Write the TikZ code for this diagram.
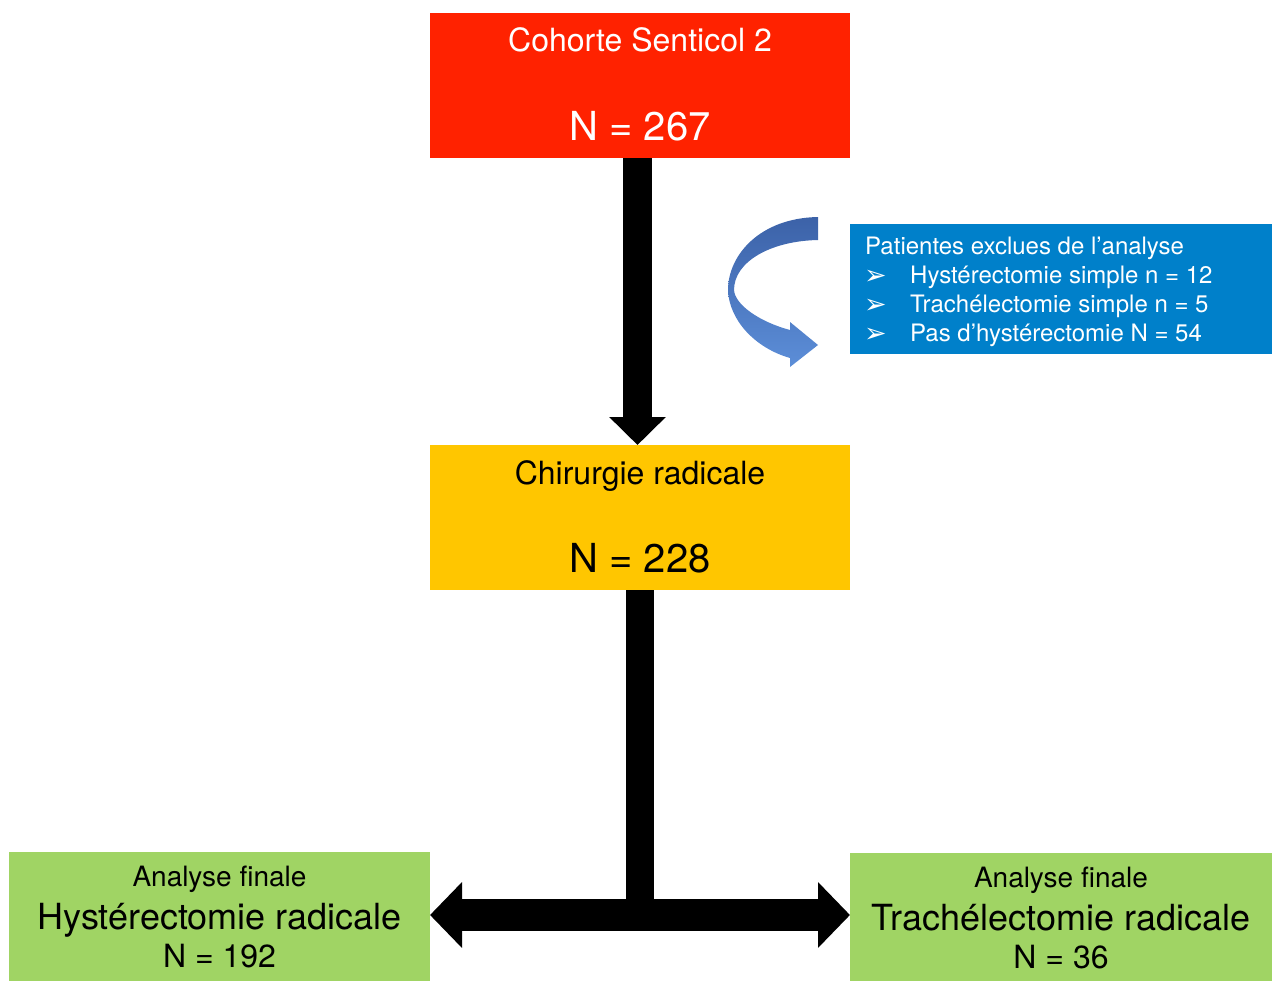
\documentclass[tikz,border=0pt]{standalone}
\usepackage{fontspec}
\setmainfont{TeX Gyre Heros}
\newfontfamily\symfont{DejaVu Sans}
\usetikzlibrary{arrows.meta,calc}
\definecolor{boxred}{RGB}{255,34,0}
\definecolor{boxyellow}{RGB}{255,198,0}
\definecolor{boxgreen}{RGB}{160,212,100}
\definecolor{boxblue}{RGB}{0,128,202}
\definecolor{curvetop}{RGB}{60,98,168}
\definecolor{curvebot}{RGB}{92,142,216}
\tikzset{
  box/.style={draw=none, inner sep=0pt, outer sep=0pt},
  txt/.style={anchor=base, inner sep=0pt},
  fatarrow/.style={line width=#1, draw=black},
}
\begin{document}
\begin{tikzpicture}[x=1pt,y=-1pt]
\useasboundingbox (0,0) rectangle (1274,982);
% boxes
\path[fill=boxred] (430,13) rectangle (850,158);
\node[box, minimum width=420pt, minimum height=145pt] (red) at (640,85.5) {};
\path[fill=boxyellow] (430,445) rectangle (850,590);
\node[box, minimum width=420pt, minimum height=145pt] (yellow) at (640,517.5) {};
\path[fill=boxblue] (850,224) rectangle (1272,354);
\node[box, minimum width=422pt, minimum height=130pt] (blue) at (1061,289) {};
\path[fill=boxgreen] (9,852) rectangle (430,981);
\node[box, minimum width=421pt, minimum height=129pt] (gleft) at (219.5,916.5) {};
\path[fill=boxgreen] (850,853) rectangle (1272,981);
\node[box, minimum width=422pt, minimum height=128pt] (gright) at (1061,917) {};
% texts
\node[txt, text=white, font=\fontsize{32}{36}\selectfont] (t1) at (640,52) {Cohorte Senticol 2};
\node[txt, text=white, font=\fontsize{40}{44}\selectfont] (t2) at (640,140.5) {N = 267};
\node[txt, font=\fontsize{32}{36}\selectfont] (t3) at (640,484) {Chirurgie radicale};
\node[txt, font=\fontsize{40}{44}\selectfont] (t4) at (640,572) {N = 228};
\node[txt, anchor=base west, text=white, font=\fontsize{24}{28}\selectfont] (b0) at (865,254) {Patientes exclues de l’analyse};
\foreach \y/\t [count=\i] in {283/{Hystérectomie simple n = 12},312/{Trachélectomie simple n = 5},341/{Pas d’hystérectomie N = 54}}{
  \node[txt, anchor=base west, text=white, font=\symfont\fontsize{27}{30}\selectfont] (bul\i) at (864,\y+1) {➢};
  \node[txt, anchor=base west, text=white, font=\fontsize{24}{28}\selectfont] (b\i) at (910,\y) {\t};
}
\node[txt, font=\fontsize{28}{32}\selectfont] (l1) at (219.5,886) {Analyse finale};
\node[txt, font=\fontsize{36}{40}\selectfont] (l2) at (219.5,929) {Hystérectomie radicale};
\node[txt, font=\fontsize{32}{36}\selectfont] (l3) at (219.5,967.5) {N = 192};
\node[txt, font=\fontsize{28}{32}\selectfont] (r1) at (1061,887) {Analyse finale};
\node[txt, font=\fontsize{36}{40}\selectfont] (r2) at (1061,930) {Trachélectomie radicale};
\node[txt, font=\fontsize{32}{36}\selectfont] (r3) at (1061,968) {N = 36};
% connectors
\coordinate (junction) at (640,915);
\draw[fatarrow=29pt, -{Triangle[width=55pt,length=28pt]}] ($(red.south)+(-2.5,0)$) -- ($(yellow.north)+(-2.5,0)$);
\draw[fatarrow=28pt] (yellow.south) -- ($(junction)+(0,-5)$);
\draw[fatarrow=32pt, {Triangle[width=64pt,length=32pt]}-{Triangle[width=64pt,length=32pt]}] (gleft.east |- junction) -- (gright.west |- junction);
% curved arrow
\shade[top color=curvetop, bottom color=curvebot]
  (818,217) .. controls (760,218) and (728,255) .. (728,290)
  .. controls (729,320) and (755,348) .. (790,358)
  -- (790,367) -- (818,345) -- (790,322) -- (790,330)
  .. controls (760,322) and (735,305) .. (734,290)
  .. controls (734,262) and (770,241) .. (818,240) -- cycle;
\end{tikzpicture}
\end{document}
